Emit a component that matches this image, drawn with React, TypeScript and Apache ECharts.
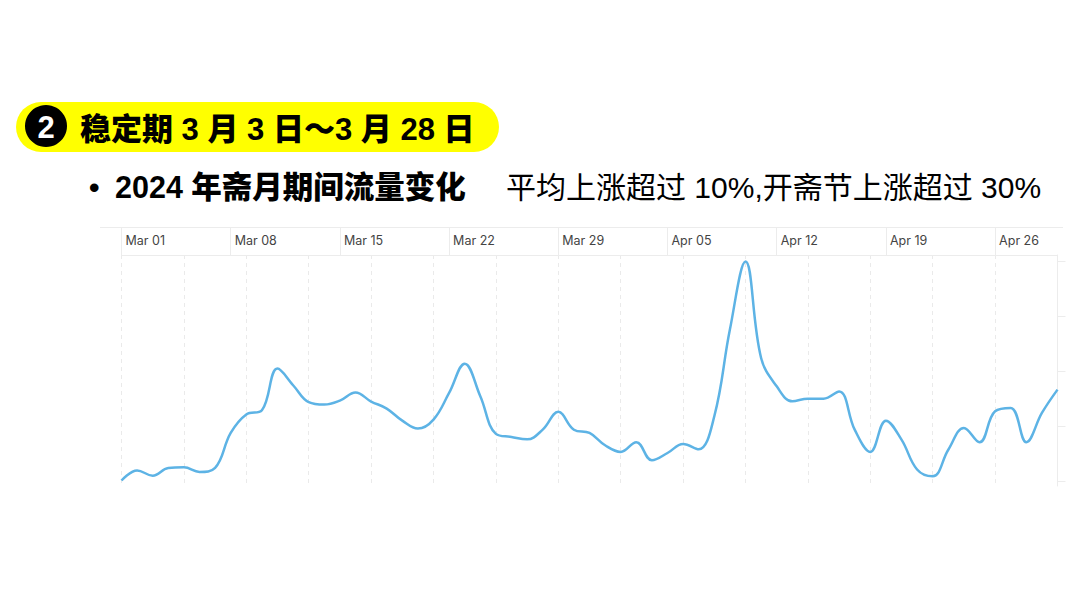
import React, { useEffect, useRef } from "react";
import * as echarts from "echarts";

const dates = [
  "Mar 01","Mar 02","Mar 03","Mar 04","Mar 05","Mar 06","Mar 07","Mar 08","Mar 09","Mar 10",
  "Mar 11","Mar 12","Mar 13","Mar 14","Mar 15","Mar 16","Mar 17","Mar 18","Mar 19","Mar 20",
  "Mar 21","Mar 22","Mar 23","Mar 24","Mar 25","Mar 26","Mar 27","Mar 28","Mar 29","Mar 30",
  "Mar 31","Apr 01","Apr 02","Apr 03","Apr 04","Apr 05","Apr 06","Apr 07","Apr 08","Apr 09",
  "Apr 10","Apr 11","Apr 12","Apr 13","Apr 14","Apr 15","Apr 16","Apr 17","Apr 18","Apr 19",
  "Apr 20","Apr 21","Apr 22","Apr 23","Apr 24","Apr 25","Apr 26","Apr 27","Apr 28","Apr 29",
  "Apr 30",
];

const interest = [
  0.5, 5.1, 2.7, 6.2, 6.5, 4.4, 6.2, 22.1, 30.5, 32.4,
  51.4, 43.8, 36.1, 35, 36.8, 40.5, 36.4, 33.2, 27.7, 24.1,
  28.2, 40.3, 53.6, 38.8, 21.7, 20.3, 19.2, 23.6, 31.7, 23.6,
  22.1, 16.5, 13.5, 17.9, 9.7, 13, 17.1, 14.7, 29.7, 69.1,
  100, 56.2, 43.3, 36.5, 37.7, 37.7, 41, 23.6, 13.5, 27.7,
  19.1, 5.5, 2.4, 14.5, 24.4, 17.9, 32, 33.5, 17.9, 31.2,
  41.8,
];

const yTicks = [0, 25, 50, 75, 100];

const badgeNumber = "2";
const headingText = "稳定期 3 月 3 日～3 月 28 日";
const bulletText = "2024 年斋月期间流量变化";
const noteText = "平均上涨超过 10%,开斋节上涨超过 30%";

const CJK = "'Liberation Sans', 'Noto Sans CJK SC', sans-serif";

export default function App() {
  const ref = useRef<HTMLDivElement>(null);

  useEffect(() => {
    if (!ref.current) return;
    const chart = echarts.init(ref.current, null, { renderer: "svg" });
    chart.setOption({
      animation: false,
      backgroundColor: "#ffffff",
      grid: { left: 121.5, right: 22.5, top: 255, bottom: 122, containLabel: false },
      xAxis: [
        {
          type: "category",
          data: dates,
          boundaryGap: false,
          position: "bottom",
          axisLine: { show: false },
          axisTick: { show: false },
          axisLabel: { show: false },
          splitLine: {
            show: true,
            interval: 3,
            lineStyle: { color: "#eaeaea", type: [4, 4], width: 1 },
          },
        },
        {
          type: "category",
          data: dates,
          boundaryGap: false,
          position: "top",
          axisLine: { show: true, lineStyle: { color: "#ececec", width: 1 } },
          axisTick: {
            show: true,
            interval: 6,
            length: 28,
            inside: false,
            lineStyle: { color: "#ececec", width: 1 },
          },
          axisLabel: {
            show: true,
            interval: 6,
            align: "left",
            margin: 8,
            padding: [0, 0, 0, 4],
            color: "#444444",
            fontSize: 12.5,
            fontFamily: "Inter, 'Noto Sans', sans-serif",
          },
          splitLine: { show: false },
        },
      ],
      yAxis: {
        type: "value",
        position: "right",
        min: -2,
        max: 103,
        axisLine: { show: true, lineStyle: { color: "#ececec", width: 1 } },
        axisTick: {
          show: true,
          customValues: yTicks,
          length: 8,
          lineStyle: { color: "#ececec", width: 1 },
        },
        axisLabel: { show: false },
        splitLine: { show: false },
      },
      series: [
        {
          type: "line",
          data: interest,
          xAxisIndex: 0,
          smooth: 0.4,
          showSymbol: false,
          symbol: "none",
          lineStyle: { color: "#5db3e5", width: 2.5 },
        },
      ],
      graphic: [
        {
          type: "line",
          shape: { x1: 100, y1: 227.5, x2: 1063, y2: 227.5 },
          style: { stroke: "#ececec", lineWidth: 1 },
        },
        {
          type: "rect",
          shape: { x: 16, y: 102, width: 483, height: 50, r: 25 },
          style: { fill: "#ffff00" },
        },
        {
          type: "circle",
          shape: { cx: 46, cy: 126, r: 21 },
          style: { fill: "#000000" },
        },
        {
          type: "text",
          x: 46,
          y: 127,
          style: {
            text: badgeNumber,
            fill: "#ffffff",
            font: `900 31px ${CJK}`,
            align: "center",
            verticalAlign: "middle",
          },
        },
        {
          type: "text",
          x: 80,
          y: 129,
          style: {
            text: headingText,
            fill: "#000000",
            font: `900 31px ${CJK}`,
            align: "left",
            verticalAlign: "middle",
          },
        },
        {
          type: "text",
          x: 89,
          y: 187,
          style: {
            text: "•",
            fill: "#000000",
            font: `900 30px ${CJK}`,
            align: "left",
            verticalAlign: "middle",
          },
        },
        {
          type: "text",
          x: 115,
          y: 187,
          style: {
            text: bulletText,
            fill: "#000000",
            font: `900 30.5px ${CJK}`,
            align: "left",
            verticalAlign: "middle",
          },
        },
        {
          type: "text",
          x: 506,
          y: 187,
          style: {
            text: noteText,
            fill: "#000000",
            font: `30px ${CJK}`,
            align: "left",
            verticalAlign: "middle",
          },
        },
      ],
    });
    return () => chart.dispose();
  }, []);

  return (
    <div
      ref={ref}
      style={{ position: "fixed", left: 0, top: 0, width: 1080, height: 608, background: "#fff" }}
    />
  );
}
